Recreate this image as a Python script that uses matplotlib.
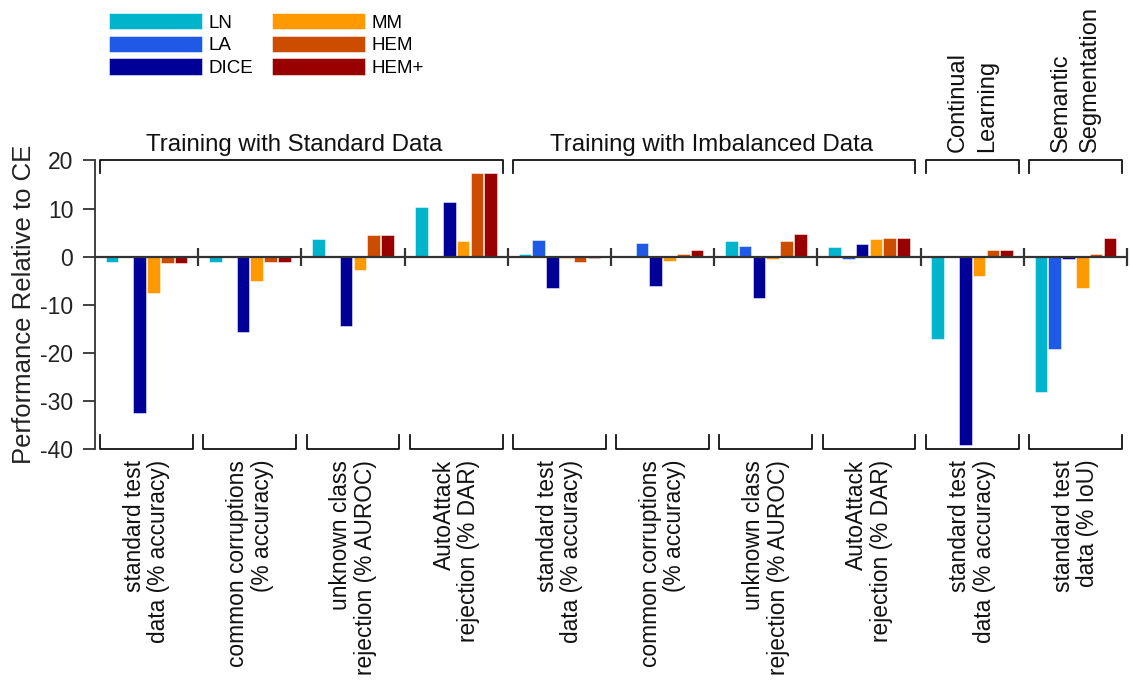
import matplotlib
matplotlib.use("Agg")
import matplotlib.pyplot as plt
import numpy as np

plt.rcParams['font.family'] = ['Liberation Sans', 'DejaVu Sans']
plt.rcParams['axes.unicode_minus'] = False

# ---------------- data ----------------
categories = [
    "standard test\ndata (% accuracy)",
    "common corruptions\n(% accuracy)",
    "unknown class\nrejection (% AUROC)",
    "AutoAttack\nrejection (% DAR)",
    "standard test\ndata (% accuracy)",
    "common corruptions\n(% accuracy)",
    "unknown class\nrejection (% AUROC)",
    "AutoAttack\nrejection (% DAR)",
    "standard test\ndata (% accuracy)",
    "standard test\ndata (% IoU)",
]
series_names = ["LN", "LA", "DICE", "MM", "HEM", "HEM+"]
LN = [-1.0, -1.2, 3.7, 10.4, 0.6, 0.1, 3.3, 2.0, -17.0, -28.0]
LA = [0.0, 0.0, 0.0, 0.0, 3.5, 2.8, 2.2, -0.4, 0.0, -19.2]
DICE = [-32.5, -15.7, -14.4, 11.3, -6.6, -6.1, -8.5, 2.6, -39.1, -0.4]
MM = [-7.6, -5.0, -2.7, 3.3, -0.3, -0.9, -0.5, 3.6, -4.0, -6.4]
HEM = [-1.4, -1.2, 4.6, 17.3, -1.0, 0.6, 3.3, 3.9, 1.4, 0.55]
HEM_PLUS = [-1.4, -1.2, 4.6, 17.3, -0.2, 1.45, 4.7, 3.9, 1.4, 3.8]
series_values = [LN, LA, DICE, MM, HEM, HEM_PLUS]
colors = ["#00B4CC", "#1F5AE6", "#000099", "#FF9900", "#CC4C00", "#990000"]

# top group brackets: (label, first group, last group, vertical?)
top_groups = [
    ("Training with Standard Data", 0, 3, False),
    ("Training with Imbalanced Data", 4, 7, False),
    ("Continual\nLearning", 8, 8, True),
    ("Semantic\nSegmentation", 9, 9, True),
]
yticks = [-40, -30, -20, -10, 0, 10, 20]

# ---------------- figure ----------------
W, H = 1130, 682
fig = plt.figure(figsize=(W / 100, H / 100), dpi=100)
ax = fig.add_axes([95 / W, 1 - 449.3 / H, (1127 - 95) / W, (449.3 - 160.4) / H])

n = len(categories)
x = np.arange(n)
slot = 0.134
width = 0.122
dark = "#333333"
ink = "#111111"

for k, (name, vals, col) in enumerate(zip(series_names, series_values, colors)):
    ax.bar(x + (k - 2.5) * slot, vals, width, color=col,
           edgecolor=(1, 1, 1, 0.5), linewidth=0.7, label=name, zorder=2)

ax.set_xlim(-0.5, n - 0.5)
ax.set_ylim(-40, 20)
ax.axhline(0, color=dark, lw=1.6, zorder=3)
ax.vlines(x + 0.5, -1.9, 1.9, color=dark, lw=1.6, zorder=3, clip_on=False)

for s in ["top", "right", "bottom"]:
    ax.spines[s].set_visible(False)
ax.spines["left"].set_color(dark)
ax.spines["left"].set_linewidth(1.3)
ax.set_xticks([])
ax.set_yticks(yticks)
ax.tick_params(axis="y", length=8.6, width=1.3, pad=7, labelsize=16.5,
               color=dark, labelcolor="#222222")

ax.set_ylabel("Performance Relative to CE", fontsize=18.5, color="#222222")
ax.yaxis.set_label_coords(-0.057, 0.5)

# bottom brackets and category labels
ins = 0.45
for i, lab in zip(x, categories):
    ax.plot([i - ins, i - ins, i + ins, i + ins], [-37.0, -40, -40, -37.0],
            color=ink, lw=1.3, clip_on=False, zorder=4)
    ax.annotate(lab, xy=(i, -40), xytext=(0, -7.5), textcoords="offset points",
                rotation=90, ha="center", va="top", multialignment="right",
                fontsize=16.4, linespacing=1.08, color=ink, annotation_clip=False)

# top brackets and group titles
title_dx = [-5, -2, 0, 0]
for (lab, a, b, vert), dx in zip(top_groups, title_dx):
    ax.plot([a - ins, a - ins, b + ins, b + ins], [17.4, 20, 20, 17.4],
            color=ink, lw=1.3, clip_on=False, zorder=4)
    if vert:
        ax.annotate(lab, xy=((a + b) / 2, 20), xytext=(dx, 6), textcoords="offset points",
                    rotation=90, ha="center", va="bottom", multialignment="left",
                    fontsize=17, linespacing=1.45, color=ink, annotation_clip=False)
    else:
        ax.annotate(lab, xy=((a + b) / 2, 20), xytext=(dx, 3), textcoords="offset points",
                    ha="center", va="bottom", fontsize=17.3, color=ink,
                    annotation_clip=False)

ax.legend(ncol=2, loc="upper left", bbox_to_anchor=(109 / W, 1 - 13 / H),
          bbox_transform=fig.transFigure, frameon=False, fontsize=13.5,
          handlelength=4.95, handleheight=0.96, handletextpad=0.35,
          columnspacing=1.0, labelspacing=0.22, borderpad=0, borderaxespad=0)

fig.savefig("out.png", dpi=100)
